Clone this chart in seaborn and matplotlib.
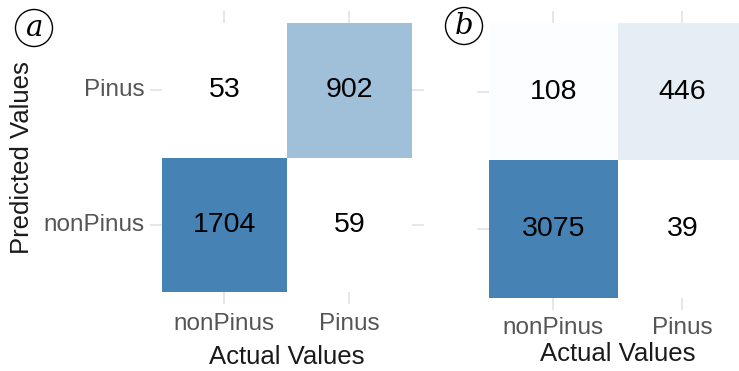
import numpy as np
import pandas as pd
import matplotlib
matplotlib.use("Agg")
import matplotlib.pyplot as plt
from matplotlib.colors import LinearSegmentedColormap
from matplotlib.patches import Circle
import seaborn as sns

# Class labels: rows are predicted (top to bottom), columns are actual
predicted_labels = ["Pinus", "nonPinus"]
actual_labels = ["nonPinus", "Pinus"]

# Confusion-matrix counts for the two models
counts_a = [[53, 902],
            [1704, 59]]
counts_b = [[108, 446],
            [3075, 39]]

panel_tags = ["a", "b"]

sns.set_theme(style="white")
plt.rcParams["font.family"] = ["Liberation Sans", "DejaVu Sans"]

cmap = LinearSegmentedColormap.from_list("white_steel", ["#ffffff", "#4682b4"])

fig = plt.figure(figsize=(7.39, 3.71), dpi=100)
ax_a = fig.add_axes([0.2192, 0.2129, 0.3383, 0.7251])
ax_b = fig.add_axes([0.6617, 0.1968, 0.3491, 0.7412])

tick_gray = "#e0e0e0"
label_gray = "#555555"

panels = [(ax_a, counts_a, True, 7.0, 6.5),
          (ax_b, counts_b, False, 2.5, 5.0)]

for ax, counts, show_y, xlabelpad, xtickpad in panels:
    df = pd.DataFrame(counts, index=predicted_labels, columns=actual_labels)
    vals = np.array(counts)
    sns.heatmap(df, ax=ax, cmap=cmap, vmin=vals.min(), vmax=vals.max(),
                annot=True, fmt="d", cbar=False, square=False,
                annot_kws={"fontsize": 20.5, "color": "black"})
    for t in ax.texts:
        t.set_color("black")
    ax.set_xlabel("Actual Values", fontsize=18.5, color="#1a1a1a",
                  labelpad=xlabelpad)
    if show_y:
        ax.set_ylabel("Predicted Values", fontsize=18.5, color="#1a1a1a",
                      labelpad=6.5)
    else:
        ax.set_ylabel("")
    ax.tick_params(axis="both", which="major", length=8.6, width=1.1,
                   color=tick_gray, labelcolor=label_gray, labelsize=17.5,
                   top=True, right=True, bottom=True, left=True,
                   labeltop=False, labelright=False)
    ax.tick_params(axis="x", pad=xtickpad)
    ax.tick_params(axis="y", pad=4)
    ax.set_yticklabels(predicted_labels if show_y else [], rotation=0)
    ax.set_xticklabels(actual_labels, rotation=0)
    for s in ax.spines.values():
        s.set_visible(False)

# Circled panel tags
for (cx, cy), tag in [((34, 28), panel_tags[0]), ((464, 26), panel_tags[1])]:
    fx, fy = cx / 739, 1 - cy / 371
    fig.patches.append(Circle((cx, 371 - cy), 18.5, transform=None,
                              fill=False, edgecolor="black", linewidth=1.0))
    fig.text(fx, fy, tag, fontsize=21, style="italic", family="DejaVu Serif",
             ha="center", va="center", color="black")

fig.savefig("out.png", dpi=100)
